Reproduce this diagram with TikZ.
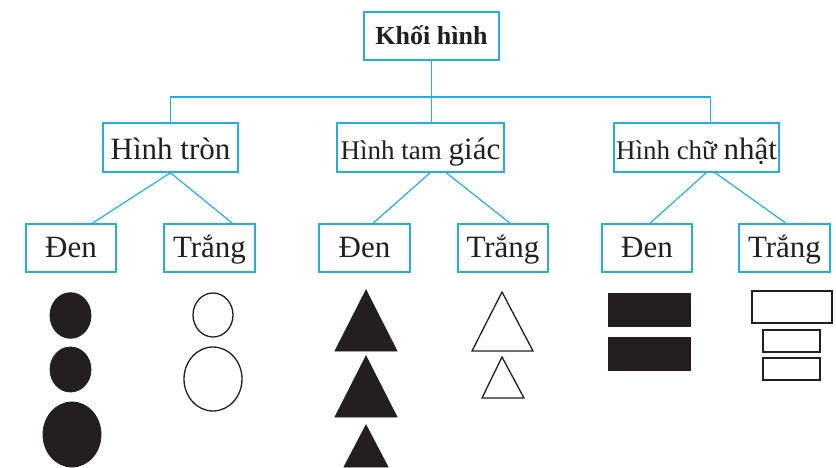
\documentclass[tikz,border=0pt]{standalone}
\usepackage{fontspec}
\setmainfont{Liberation Serif}
\usetikzlibrary{calc}
\definecolor{boxblue}{RGB}{41,171,226}
\definecolor{ink}{RGB}{35,31,32}
\newcommand{\fsz}[1]{\fontsize{#1}{#1}\selectfont}
\begin{document}
\begin{tikzpicture}[x=1pt,y=-1pt,
  box/.style={draw=boxblue,line width=1.5pt,inner sep=0pt,fill=white,text=ink},
  lvltwo/.style={box,minimum height=49pt,text height=23.5pt,text depth=0pt},
  lvlthree/.style={box,minimum height=48pt,text height=20pt,text depth=0pt,font=\fsz{31}},
  link/.style={draw=boxblue,line width=1.2pt},
  blk/.style={fill=ink,draw=ink,line width=0.8pt},
  wht/.style={draw=ink,line width=1.3pt,fill=white}]
\useasboundingbox (0,0) rectangle (836,468);

% boxes
\node[box,minimum width=135pt,minimum height=48pt,text height=18pt,text depth=0pt] (khoi) at (431.5,36) {\fsz{26}\bfseries Khối hình};

\node[lvltwo,minimum width=135pt] (tron) at (170.5,147.5) {\fsz{31}Hình tròn};
\node[lvltwo,minimum width=167pt] (tam) at (420.5,147.5) {{\fsz{27}Hình tam }{\fsz{31}giác}};
\node[lvltwo,minimum width=165pt] (nhat) at (696.5,147.5) {{\fsz{27}Hình chữ }{\fsz{31}nhật}};

\node[lvlthree,minimum width=90pt] (den1) at (71,248) {Đen};
\node[lvlthree,minimum width=91pt] (trang1) at (209.5,248) {Trắng};
\node[lvlthree,minimum width=91pt] (den2) at (364.5,248) {Đen};
\node[lvlthree,minimum width=90pt] (trang2) at (503,248) {Trắng};
\node[lvlthree,minimum width=90pt] (den3) at (647,248) {Đen};
\node[lvlthree,minimum width=91pt] (trang3) at (784.5,248) {Trắng};

% connectors
\coordinate (bus) at (0,97);
\coordinate (nhattop) at ($(nhat.north west)!0.585!(nhat.north east)$);
\draw[link] (khoi.south) -- (khoi.south |- tam.north);
\draw[link] (tron.north) |- (bus -| nhattop) -- (nhattop);

\draw[link] (tron.south) -- ($(den1.north west)!0.733!(den1.north east)$);
\draw[link] (tron.south) -- ($(trang1.north west)!0.747!(trang1.north east)$);
\draw[link] ($(tam.south west)!0.557!(tam.south east)$) -- ($(den2.north west)!0.593!(den2.north east)$);
\draw[link] ($(tam.south west)!0.653!(tam.south east)$) -- ($(trang2.north west)!0.578!(trang2.north east)$);
\draw[link] ($(nhat.south west)!0.558!(nhat.south east)$) -- ($(den3.north west)!0.533!(den3.north east)$);
\draw[link] ($(nhat.south west)!0.612!(nhat.south east)$) -- ($(trang3.north west)!0.516!(trang3.north east)$);

% circles
\draw[blk] (70.5,315.5) ellipse [x radius=20.5, y radius=22.8];
\draw[blk] (70.5,369.5) ellipse [x radius=20.5, y radius=22.5];
\draw[blk] (72,434.5) ellipse [x radius=29, y radius=32.5];
\draw[wht] (213,315) ellipse [x radius=20, y radius=22];
\draw[wht] (213,379) ellipse [x radius=29, y radius=32];

% triangles
\draw[blk] (366,290) -- (397,351) -- (335,351) -- cycle;
\draw[blk] (366,356) -- (397,417) -- (335,417) -- cycle;
\draw[blk] (366,425) -- (388,467) -- (344,467) -- cycle;
\draw[wht,line join=miter] (502,292) -- (533,351) -- (472,351) -- cycle;
\draw[wht,line join=miter] (502,357) -- (524,398) -- (482,398) -- cycle;

% rectangles
\draw[blk] (608,293) rectangle (690,326);
\draw[blk] (608,337) rectangle (690,370);
\draw[wht] (752,291) rectangle (832,323);
\draw[wht] (763,330) rectangle (820,352);
\draw[wht] (763,358) rectangle (820,380);
\end{tikzpicture}
\end{document}
